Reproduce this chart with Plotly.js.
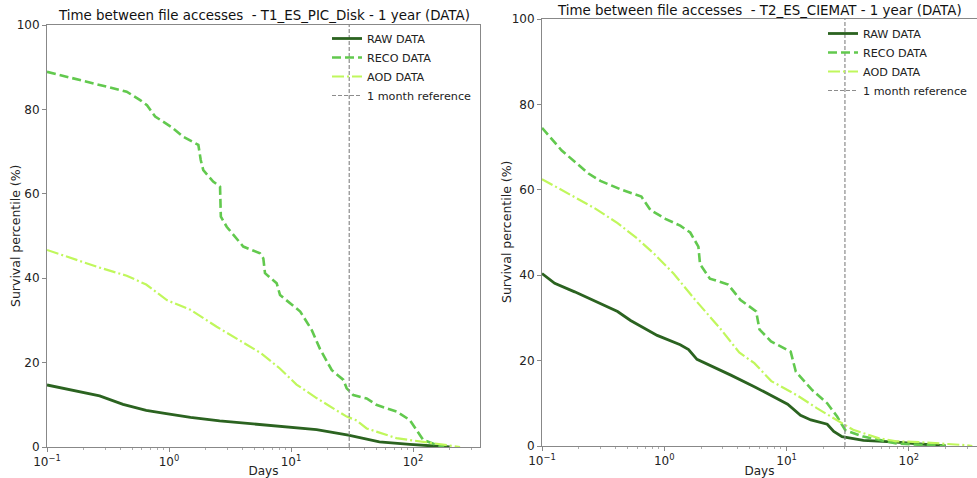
<!DOCTYPE html>
<html>
<head>
<meta charset="utf-8">
<script src="https://cdn.plot.ly/plotly-3.0.1.min.js"></script>
<style>html,body{margin:0;padding:0;background:#fff;}#chart{width:977px;height:478px;}</style>
</head>
<body>
<div id="chart"></div>
<script>
// ---- Data ----
const seriesNames = ['RAW DATA', 'RECO DATA', 'AOD DATA', '1 month reference'];
const titles = ['Time between file accesses  - T1_ES_PIC_Disk - 1 year (DATA)',
                'Time between file accesses  - T2_ES_CIEMAT - 1 year (DATA)'];
const xTitle = 'Days';
const yTitle = 'Survival percentile (%)';
const xTickVals = [0.1, 1, 10, 100];
const xTickText = ['10<sup>−1</sup>', '10<sup>0</sup>', '10<sup>1</sup>', '10<sup>2</sup>'];
const yTickVals = [0, 20, 40, 60, 80, 100];
const oneMonthDays = 30;
const refY = [0, 100];

// T1_ES_PIC_Disk
const picRawX = [0.1, 0.27, 0.42, 0.65, 0.95, 1.5, 2.6, 5.0, 10, 16.2, 29.5, 53, 94, 176, 200];
const picRawY = [14.7, 12.1, 10.1, 8.7, 7.9, 7.0, 6.2, 5.4, 4.7, 4.1, 2.8, 1.2, 0.6, 0.2, 0.0];
const picRecoX = [0.1, 0.25, 0.45, 0.58, 0.66, 0.77, 1.05, 1.31, 1.74, 1.82, 1.91, 2.3, 2.62, 2.66, 2.97, 4.06, 5.57, 5.93, 6.12, 7.63, 8.13, 11.9, 14.8, 17.3, 21.6, 26.9, 28.6, 32.4, 41.7, 50, 73.4, 94, 107, 121, 155, 180];
const picRecoY = [88.9, 86.0, 84.2, 82.2, 81.0, 78.3, 75.8, 73.5, 71.6, 68.0, 65.6, 62.9, 61.7, 54.6, 52.2, 47.5, 45.9, 44.7, 41.2, 38.8, 36.0, 32.1, 27.7, 23.2, 18.2, 15.9, 13.9, 12.3, 11.5, 10.0, 8.4, 6.4, 4.0, 1.7, 0.5, 0.0];
const picAodX = [0.1, 0.27, 0.45, 0.65, 0.96, 1.5, 2.46, 3.8, 5.7, 8.1, 11.1, 16.2, 28.6, 34.5, 41.7, 73, 115, 178, 243];
const picAodY = [46.7, 42.5, 40.6, 38.5, 34.8, 32.5, 28.5, 25.2, 22.2, 18.6, 14.8, 11.6, 7.2, 6.3, 4.4, 2.1, 1.3, 0.6, 0.0];

// T2_ES_CIEMAT
const ciemRawX = [0.1, 0.127, 0.185, 0.30, 0.415, 0.53, 0.68, 0.875, 1.35, 1.58, 1.85, 2.68, 3.5, 5.45, 7.95, 10.2, 13, 15.8, 21.5, 24.3, 28.4, 42.5, 79, 105, 160, 200];
const ciemRawY = [40.4, 38.1, 36.1, 33.4, 31.5, 29.4, 27.7, 25.9, 23.7, 22.6, 20.3, 18.2, 16.6, 13.9, 11.5, 9.8, 7.2, 6.1, 5.1, 3.4, 2.2, 1.3, 0.9, 0.6, 0.2, 0.0];
const ciemRecoX = [0.1, 0.145, 0.24, 0.30, 0.44, 0.65, 0.77, 1.02, 1.35, 1.63, 1.9, 1.96, 2.36, 3.33, 4.2, 5.64, 6.0, 7.46, 10.8, 11.9, 16.2, 21.5, 25.9, 30.2, 42.5, 79, 120, 200];
const ciemRecoY = [74.5, 69.2, 63.8, 62.1, 60.1, 58.4, 55.3, 53.2, 51.6, 50.0, 46.7, 42.6, 39.2, 37.8, 34.2, 31.5, 27.3, 24.5, 22.1, 17.4, 13.1, 10.0, 6.9, 3.7, 2.2, 0.6, 0.3, 0.0];
const ciemAodX = [0.1, 0.163, 0.269, 0.415, 0.6, 0.82, 1.19, 1.78, 2.85, 4.1, 5.45, 7.5, 12.3, 17.8, 28, 35, 42.5, 57, 79, 121, 290, 330];
const ciemAodY = [62.5, 59.2, 55.7, 52.2, 48.6, 45.1, 40.4, 34.3, 27.6, 21.9, 19.4, 15.2, 11.8, 8.8, 5.5, 3.8, 3.0, 1.8, 1.1, 0.9, 0.2, 0.0];

// ---- Styles ----
const colors = ['#2b6320', '#62c94e', '#c0f75c', '#8c8c8c'];
const widths = [2.8, 2.6, 2.2, 1.2];
const dashes = ['solid', '9px,4px', '12px,3px,2px,3px', '4px,2px'];
const FONT = 'DejaVu Sans, sans-serif';

function makeTraces(xs, ys, xa, ya, leg) {
  const t = [];
  for (let i = 0; i < 3; i++) {
    t.push({x: xs[i], y: ys[i], type: 'scatter', mode: 'lines', name: seriesNames[i],
      xaxis: xa, yaxis: ya, legend: leg,
      line: {color: colors[i], width: widths[i], dash: dashes[i]}, hoverinfo: 'x+y'});
  }
  t.push({x: [oneMonthDays, oneMonthDays], y: refY, type: 'scatter', mode: 'lines', name: seriesNames[3],
    xaxis: xa, yaxis: ya, legend: leg,
    line: {color: colors[3], width: widths[3], dash: dashes[3]}});
  return t;
}

const data = [].concat(
  makeTraces([picRawX, picRecoX, picAodX], [picRawY, picRecoY, picAodY], 'x', 'y', 'legend'),
  makeTraces([ciemRawX, ciemRecoX, ciemAodX], [ciemRawY, ciemRecoY, ciemAodY], 'x2', 'y2', 'legend2')
);

function xAxis(domain, range, anchor) {
  return {type: 'log', domain: domain, range: range, anchor: anchor,
    tickvals: xTickVals, ticktext: xTickText,
    ticks: 'outside', ticklen: 4, tickwidth: 1, tickcolor: '#888',
    minor: {ticks: 'outside', ticklen: 2, tickwidth: 0.8, tickcolor: '#999', dtick: 'D1', showgrid: false},
    showline: true, linecolor: '#888', linewidth: 1, mirror: true,
    showgrid: false, zeroline: false,
    tickfont: {family: FONT, size: 12, color: '#222'},
    title: {text: xTitle, font: {family: FONT, size: 12, color: '#222'}, standoff: 4}};
}
function yAxis(domain, anchor) {
  return {domain: domain, range: [0, 100], anchor: anchor, tickvals: yTickVals,
    ticks: 'outside', ticklen: 4, tickwidth: 1, tickcolor: '#888',
    showline: true, linecolor: '#888', linewidth: 1, mirror: true,
    showgrid: false, zeroline: false,
    tickfont: {family: FONT, size: 12, color: '#222'}};
}

const legendBase = {bgcolor: 'rgba(0,0,0,0)', borderwidth: 0, font: {family: FONT, size: 11.2, color: '#222'},
  xanchor: 'left', yanchor: 'top', tracegroupgap: 0};

function titleAnn(text, x, y) {
  return {text: text, xref: 'paper', yref: 'paper', x: x, y: y, xanchor: 'center', yanchor: 'middle',
    showarrow: false, font: {family: FONT, size: 13.4, color: '#111'}};
}
function yTitleAnn(x, y) {
  return {text: yTitle, xref: 'paper', yref: 'paper', x: x, y: y, xanchor: 'center', yanchor: 'middle',
    textangle: -90, showarrow: false, font: {family: FONT, size: 12.5, color: '#222'}};
}

const layout = {
  width: 977, height: 478,
  margin: {l: 0, r: 0, t: 0, b: 0},
  paper_bgcolor: '#fff', plot_bgcolor: '#fff',
  showlegend: true,
  xaxis: xAxis([47/977, 480/977], [-1, 2.549], 'y'),
  yaxis: yAxis([1 - 447/478, 1 - 25/478], 'x'),
  xaxis2: xAxis([542/977, 1], [-1, 2.557], 'y2'),
  yaxis2: yAxis([1 - 446/478, 1 - 19/478], 'x2'),
  legend: Object.assign({}, legendBase, {x: 327/977, y: 1 - 24/478}),
  legend2: Object.assign({}, legendBase, {x: 823/977, y: 1 - 19/478}),
  annotations: [
    titleAnn(titles[0], 263.5/977, 1 - 16/478),
    titleAnn(titles[1], 759.5/977, 1 - 10/478),
    yTitleAnn(15/977, 1 - 236/478),
    yTitleAnn(507/977, 1 - 232/478)
  ]
};

Plotly.newPlot('chart', data, layout, {displayModeBar: false, staticPlot: true});
</script>
</body>
</html>
